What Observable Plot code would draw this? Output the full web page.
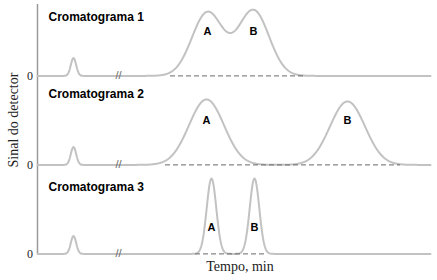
<!DOCTYPE html>
<html><head><meta charset="utf-8">
<script src="https://cdn.jsdelivr.net/npm/d3@7"></script>
<script src="https://cdn.jsdelivr.net/npm/@observablehq/plot@0.6"></script>
<style>body{margin:0;background:#fff}</style>
</head><body><div id="chart"></div>
<script>
// ---- data ----
const chromIds = [1, 2, 3];
const chromTitles = ["Cromatograma 1", "Cromatograma 2", "Cromatograma 3"];
const peakNames = ["A", "B"];
const peakTimes = [[170, 216], [169, 310], [174, 217]];
const peakHeights = [[64, 66], [66, 64], [76, 76]];
const peakWidths = [[15.5, 15.5], [17.5, 17.5], [4.8, 4.8]];
const solventTime = 36, solventHeight = 18, solventWidth = 2.7;
const breakTime = 81;
const runEnd = 393;
const baselineStart = [133, 128, 158];
const baselineEnd = [266, 363, 229];
const xLabel = "Tempo, min";
const yLabel = "Sinal do detector";
const zeroLabel = "0";

// ---- layout ----
const titleLift = [59.5, 71.5, 67];
const letterLift = [45, 45, 26.5];
const yDomain = [-17.75, 72];

const gauss = (t, c, h, w) => h * Math.exp(-((t - c) ** 2) / (2 * w * w));
const curve = [];
chromIds.forEach((id, i) => {
  for (let t = 0; t <= runEnd; t += 0.5) {
    let s = gauss(t, solventTime, solventHeight, solventWidth);
    peakTimes[i].forEach((c, j) => { s += gauss(t, c, peakHeights[i][j], peakWidths[i][j]); });
    curve.push({chrom: id, t, s});
  }
});
const peakRows = [];
chromIds.forEach((id, i) => peakNames.forEach((name, j) =>
  peakRows.push({chrom: id, name, t: peakTimes[i][j], lift: letterLift[i]})));
const chromRows = chromIds.map((id, i) => ({
  chrom: id, title: chromTitles[i], lift: titleLift[i],
  b0: baselineStart[i], b1: baselineEnd[i],
  y1: id === chromIds[chromIds.length - 1] ? 0 : yDomain[0], y2: yDomain[1]
}));

const chart = Plot.plot({
  width: 437, height: 280,
  marginTop: 3, marginBottom: 7.75, marginLeft: 37, marginRight: 7,
  x: {domain: [0, runEnd], axis: null},
  y: {domain: yDomain, axis: null},
  fy: {domain: chromIds, axis: null, padding: 0},
  style: {fontFamily: "Liberation Serif", fontSize: "12px", background: "white", overflow: "visible"},
  marks: [
    Plot.ruleX(chromRows, {x: 0, y1: "y1", y2: "y2", fy: "chrom", stroke: "#9a9a9a", strokeWidth: 1.5}),
    Plot.line(curve, {x: "t", y: "s", fy: "chrom", stroke: "#c2c2c2", strokeWidth: 2}),
    Plot.ruleY(chromRows, {y: 0, x1: "b0", x2: "b1", fy: "chrom", stroke: "#6a6a6a", strokeWidth: 1, strokeDasharray: "5,3"}),
    Plot.text(chromRows, {x: breakTime, y: 0, fy: "chrom", text: () => "//", fontFamily: "Liberation Sans", fontSize: 11, fill: "#666"}),
    Plot.text(chromRows, {x: 0, y: 0, fy: "chrom", text: () => zeroLabel, dx: -4.5, textAnchor: "end", fill: "#222", fontSize: 12}),
    Plot.text(chromRows, {x: 0, y: "lift", fy: "chrom", text: "title", dx: 11, textAnchor: "start", fontFamily: "Liberation Sans", fontWeight: "bold", fontSize: 12, fill: "#000"}),
    Plot.text(peakRows, {x: "t", y: "lift", fy: "chrom", text: "name", fontFamily: "Liberation Sans", fontWeight: "bold", fontSize: 11, fill: "#000"}),
    Plot.text(chromRows.filter(d => d.chrom === 2), {x: 0, y: 45.25, fy: "chrom", text: () => yLabel, rotate: -90, dx: -24, fontSize: 14, fill: "#222"}),
    Plot.text(chromRows.filter(d => d.chrom === 3), {frameAnchor: "bottom", fy: "chrom", text: () => xLabel, dx: 6, dy: -1, fontSize: 14, fill: "#222"})
  ]
});
document.getElementById("chart").append(chart);
</script>
</body></html>
